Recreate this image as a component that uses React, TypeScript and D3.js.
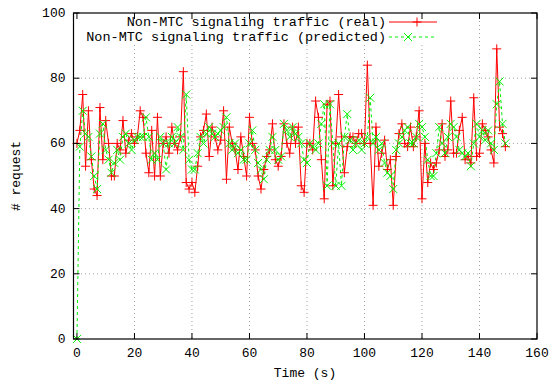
import React, { useEffect, useRef } from "react";
import * as d3 from "d3";

// values, one per second (t = 0..149)
const realTraffic = [
  60, 64, 75, 53, 70, 55, 46, 44, 71, 55,
  67, 60, 50, 50, 60, 58, 67, 57, 61, 63,
  60, 62, 70, 68, 57, 51, 64, 50, 68, 50,
  60, 62, 57, 65, 60, 58, 62, 82, 48, 46,
  48, 45, 53, 62, 64, 69, 56, 65, 62, 58,
  61, 70, 49, 65, 60, 58, 52, 62, 56, 50,
  68, 60, 58, 50, 46, 52, 56, 58, 66, 55,
  53, 56, 66, 60, 57, 65, 60, 65, 47, 45,
  60, 60, 58, 73, 68, 55, 43, 72, 73, 47,
  60, 75, 62, 51, 59, 62, 62, 60, 63, 63,
  60, 84, 60, 41, 65, 53, 57, 61, 52, 55,
  41, 56, 63, 66, 60, 59, 65, 59, 62, 70,
  43, 60, 48, 54, 52, 54, 58, 66, 56, 58,
  73, 57, 57, 64, 68, 55, 56, 54, 74, 56,
  57, 66, 64, 62, 58, 54, 89, 65, 63, 59,
];

const predictedTraffic = [
  0, 59, 70, 63, 62, 56, 50, 46, 63, 66,
  58, 55, 51, 54, 58, 55, 62, 63, 60, 58,
  61, 62, 62, 62, 68, 62, 55, 57, 55, 62,
  60, 52, 60, 62, 60, 65, 62, 58, 75, 55,
  52, 52, 57, 62, 60, 63, 65, 63, 62, 63,
  64, 65, 68, 60, 58, 60, 57, 58, 55, 55,
  60, 64, 58, 54, 52, 49, 55, 58, 62, 58,
  55, 56, 66, 64, 62, 65, 63, 62, 60, 55,
  54, 60, 59, 58, 60, 66, 72, 47, 72, 60,
  47, 60, 47, 62, 69, 61, 58, 60, 61, 58,
  60, 62, 74, 60, 62, 58, 60, 54, 51, 50,
  46, 58, 60, 62, 64, 65, 60, 60, 62, 66,
  65, 62, 55, 50, 50, 57, 65, 60, 57, 62,
  66, 65, 62, 58, 57, 56, 57, 53, 60, 66,
  62, 64, 61, 64, 60, 58, 72, 79, 66, 60,
];

const xTicks = [0, 20, 40, 60, 80, 100, 120, 140, 160];
const yTicks = [0, 20, 40, 60, 80, 100];

const FONT = "'Liberation Mono', 'DejaVu Sans Mono', monospace";
const RED = "#ff0000";
const GREEN = "#00f000";

export default function App() {
  const ref = useRef<SVGSVGElement>(null);

  useEffect(() => {
    const svg = d3.select(ref.current);
    svg.selectAll("*").remove();

    const left = 73.5, right = 537, top = 13, bottom = 339;

    // x range starts a little below zero, like the original plot
    const x = d3.scaleLinear().domain([-1.2, 160]).range([left, right]);
    const y = d3.scaleLinear().domain([0, 100]).range([bottom, top]);

    // grid
    const grid = svg.append("g")
      .attr("stroke", "#a0a0a0").attr("stroke-width", 1)
      .attr("stroke-dasharray", "1,3");
    xTicks.slice(1, -1).forEach(t => {
      grid.append("line")
        .attr("x1", x(t)).attr("x2", x(t))
        .attr("y1", top).attr("y2", bottom);
    });
    yTicks.slice(1, -1).forEach(t => {
      grid.append("line")
        .attr("x1", x(0)).attr("x2", right)
        .attr("y1", y(t)).attr("y2", y(t));
    });

    // key background hides grid behind it
    svg.append("rect")
      .attr("x", 78).attr("y", 15)
      .attr("width", 362).attr("height", 30)
      .attr("fill", "white");

    const realData = realTraffic.map((v, i) => [i, v] as [number, number]);
    const predData = predictedTraffic.map((v, i) => [i, v] as [number, number]);

    const line = d3.line<[number, number]>()
      .x(d => x(d[0]))
      .y(d => y(d[1]));

    svg.append("path")
      .datum(realData)
      .attr("d", line)
      .attr("fill", "none")
      .attr("stroke", RED)
      .attr("stroke-width", 1);

    svg.append("path")
      .datum(predData)
      .attr("d", line)
      .attr("fill", "none")
      .attr("stroke", GREEN)
      .attr("stroke-width", 1)
      .attr("stroke-dasharray", "3,3");

    const plus = (g: any, cx: number, cy: number, color: string) => {
      const s = 4.5;
      g.append("path")
        .attr("d", `M${cx - s},${cy}H${cx + s}M${cx},${cy - s}V${cy + s}`)
        .attr("stroke", color).attr("stroke-width", 1).attr("fill", "none");
    };
    const cross = (g: any, cx: number, cy: number, color: string) => {
      const s = 4;
      g.append("path")
        .attr("d", `M${cx - s},${cy - s}L${cx + s},${cy + s}M${cx - s},${cy + s}L${cx + s},${cy - s}`)
        .attr("stroke", color).attr("stroke-width", 1).attr("fill", "none");
    };

    const marks = svg.append("g");
    realData.forEach(d => plus(marks, x(d[0]), y(d[1]), RED));
    predData.forEach(d => cross(marks, x(d[0]), y(d[1]), GREEN));

    // key
    const key = svg.append("g").style("font-family", FONT).style("font-size", "13.5px");
    const keyRows = [
      { label: "Non-MTC signaling traffic (real)", color: RED, dash: null, mark: plus, yy: 22, mx: 417 },
      { label: "Non-MTC signaling traffic (predicted)", color: GREEN, dash: "3,3", mark: cross, yy: 37, mx: 408 },
    ];
    keyRows.forEach(r => {
      key.append("text")
        .attr("x", 386).attr("y", r.yy + 4)
        .attr("text-anchor", "end")
        .attr("fill", "black")
        .text(r.label);
      key.append("line")
        .attr("x1", 389).attr("x2", 437)
        .attr("y1", r.yy).attr("y2", r.yy)
        .attr("stroke", r.color).attr("stroke-width", 1)
        .attr("stroke-dasharray", r.dash);
      r.mark(key, r.mx, r.yy, r.color);
    });

    // border and ticks
    svg.append("rect")
      .attr("x", left).attr("y", top)
      .attr("width", right - left).attr("height", bottom - top)
      .attr("fill", "none").attr("stroke", "black").attr("stroke-width", 1.2);

    const ticks = svg.append("g").attr("stroke", "black").attr("stroke-width", 1);
    xTicks.forEach(t => {
      ticks.append("line").attr("x1", x(t)).attr("x2", x(t)).attr("y1", bottom).attr("y2", bottom - 6);
      ticks.append("line").attr("x1", x(t)).attr("x2", x(t)).attr("y1", top).attr("y2", top + 6);
    });
    yTicks.forEach(t => {
      ticks.append("line").attr("x1", left).attr("x2", left + 6).attr("y1", y(t)).attr("y2", y(t));
      ticks.append("line").attr("x1", right).attr("x2", right - 6).attr("y1", y(t)).attr("y2", y(t));
    });

    const labels = svg.append("g").style("font-family", FONT).style("font-size", "13px").attr("fill", "black");
    xTicks.forEach(t => {
      labels.append("text")
        .attr("x", x(t)).attr("y", bottom + 18)
        .attr("text-anchor", "middle")
        .text(t);
    });
    yTicks.forEach(t => {
      labels.append("text")
        .attr("x", left - 8).attr("y", y(t) + 4)
        .attr("text-anchor", "end")
        .text(t);
    });

    labels.append("text")
      .attr("x", 305).attr("y", 377)
      .attr("text-anchor", "middle")
      .text("Time (s)");

    labels.append("text")
      .attr("transform", `translate(20, ${(top + bottom) / 2}) rotate(-90)`)
      .attr("text-anchor", "middle")
      .text("# request");
  }, []);

  return (
    <svg ref={ref} width={553} height={383}
      style={{ position: "absolute", left: 0, top: 0, background: "white" }} />
  );
}
